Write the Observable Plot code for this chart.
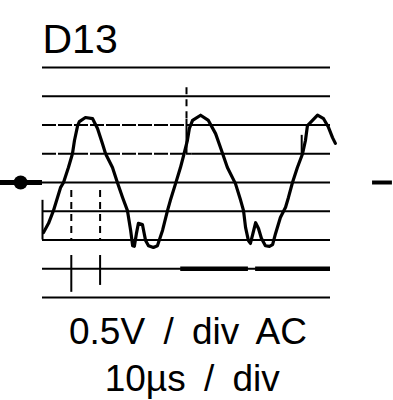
<!DOCTYPE html>
<html><head><meta charset="utf-8">
<script src="https://cdn.jsdelivr.net/npm/d3@7"></script>
<script src="https://cdn.jsdelivr.net/npm/@observablehq/plot@0.6"></script>
<style>body{margin:0;background:#fff} svg{display:block}</style>
</head><body><div id="chart"></div>
<script>
// Labels
const title = "D13";
const voltsLabel = "0.5V / div AC";
const timeLabel = "10µs / div";

// Graticule: horizontal division lines (V), 0.5 V/div
const gridVolts = [2, 1.5, 1, 0.5, 0, -0.5, -1, -1.5, -2];

// Trace (time in µs, voltage in V)
const traceTime = [0.35, 2.1, 3.8, 6.25, 7.3, 9.0, 10.4, 11.1, 12.2, 12.8, 14.9, 17.4, 19.1, 20.8, 21.9, 24.3, 26.0, 27.8, 29.5, 30.6, 31.3, 31.9, 32.6, 33.3, 34.7, 35.8, 36.8, 38.5, 39.9, 41.7, 43.4, 44.4, 46.2, 47.9, 49.0, 50.3, 51.0, 52.1, 54.9, 57.6, 60.1, 61.8, 64.2, 67.0, 68.8, 69.8, 70.5, 71.5, 72.2, 72.9, 74.0, 75.0, 76.0, 77.4, 78.8, 79.9, 80.9, 82.6, 84.4, 85.4, 86.8, 88.5, 90.3, 91.3, 92.0, 93.75, 95.5, 97.6, 99.3, 100.7, 101.7];
const traceVolts = [-0.87, -0.71, -0.49, -0.09, 0, 0.26, 0.50, 0.73, 0.99, 1.06, 1.13, 1.11, 0.94, 0.68, 0.50, 0.26, 0, -0.26, -0.49, -0.83, -1.10, -1.11, -0.89, -0.71, -0.73, -1.01, -1.10, -1.13, -1.10, -0.83, -0.49, -0.31, -0.02, 0.26, 0.47, 0.73, 0.94, 1.08, 1.17, 1.08, 0.85, 0.61, 0.26, -0.02, -0.31, -0.49, -0.78, -1.01, -1.06, -0.92, -0.70, -0.80, -0.97, -1.10, -1.11, -1.08, -0.89, -0.61, -0.43, -0.26, 0, 0.26, 0.50, 0.73, 0.99, 1.08, 1.17, 1.11, 0.96, 0.78, 0.68];

// Partial vertical graticule marks (time µs, from V, to V)
const solidMarkTime = [0, 10, 20, 50, 90];
const solidMarkFrom = [-0.31, -1.27, -1.27, 1.1, 0.82];
const solidMarkTo = [-1.0, -1.91, -1.79, 0.5, 0.5];
const dashedMarkTime = [10, 20, 50];
const dashedMarkFrom = [-0.14, -0.14, 1.65];
const dashedMarkTo = [-1.0, -1.0, 1.1];

const trace = traceTime.map((t, i) => ({t, v: traceVolts[i]}));
const solidMarks = solidMarkTime.map((t, i) => ({t, v1: solidMarkFrom[i], v2: solidMarkTo[i]}));
const dashedMarks = dashedMarkTime.map((t, i) => ({t, v1: dashedMarkFrom[i], v2: dashedMarkTo[i]}));
const solidGrid = gridVolts.filter(v => v !== 1 && v !== 0.5);
const partGrid = gridVolts.filter(v => v === 1 || v === 0.5);

const font = "'Liberation Sans', Arial, Helvetica, sans-serif";

const chart = Plot.plot({
  width: 393,
  height: 400,
  marginLeft: 42,
  marginRight: 63,
  marginTop: 67,
  marginBottom: 103,
  x: {domain: [0, 100], axis: null},
  y: {domain: [-2, 2], axis: null},
  style: {fontFamily: font, background: "#fff", color: "#000", wordSpacing: "8px"},
  marks: [
    Plot.ruleY(solidGrid, {x1: 0, x2: 100, stroke: "#000", strokeWidth: 2}),
    Plot.ruleY(partGrid, {x1: 0, x2: 52, stroke: "#000", strokeWidth: 2, strokeDasharray: "14,2"}),
    Plot.ruleY(partGrid, {x1: 52, x2: 100, stroke: "#000", strokeWidth: 2}),
    Plot.ruleY([-1.5], {x1: 48, x2: 71.5, stroke: "#000", strokeWidth: 4.5}),
    Plot.ruleY([-1.5], {x1: 74, x2: 100, stroke: "#000", strokeWidth: 4.5}),
    Plot.ruleX(solidMarks, {x: "t", y1: "v1", y2: "v2", stroke: "#000", strokeWidth: 2}),
    Plot.ruleX(dashedMarks, {x: "t", y1: "v1", y2: "v2", stroke: "#000", strokeWidth: 2, strokeDasharray: "7,5"}),
    // input arrow on the left and marker on the right at 0 V
    Plot.ruleY([0], {x1: -14.6, x2: 0, stroke: "#000", strokeWidth: 5}),
    Plot.dot([0], {x: -7.6, y: d => d, r: 7, fill: "#000", stroke: null}),
    Plot.ruleY([0], {x1: 114.6, x2: 121.5, stroke: "#000", strokeWidth: 4}),
    // trace
    Plot.line(trace, {x: "t", y: "v", stroke: "#000", strokeWidth: 3.2, strokeLinejoin: "round", strokeLinecap: "round"}),
    // labels
    Plot.text([title], {x: 0, y: 2.26, text: d => d, textAnchor: "start", lineAnchor: "bottom", fontSize: 41, fill: "#000"}),
    Plot.text([voltsLabel], {x: 50.5, y: -2.8, text: d => d, textAnchor: "middle", lineAnchor: "bottom", fontSize: 37, fill: "#000"}),
    Plot.text([timeLabel], {x: 52, y: -3.62, text: d => d, textAnchor: "middle", lineAnchor: "bottom", fontSize: 37, fill: "#000"})
  ]
});
document.getElementById("chart").appendChild(chart);
</script>
</body></html>
